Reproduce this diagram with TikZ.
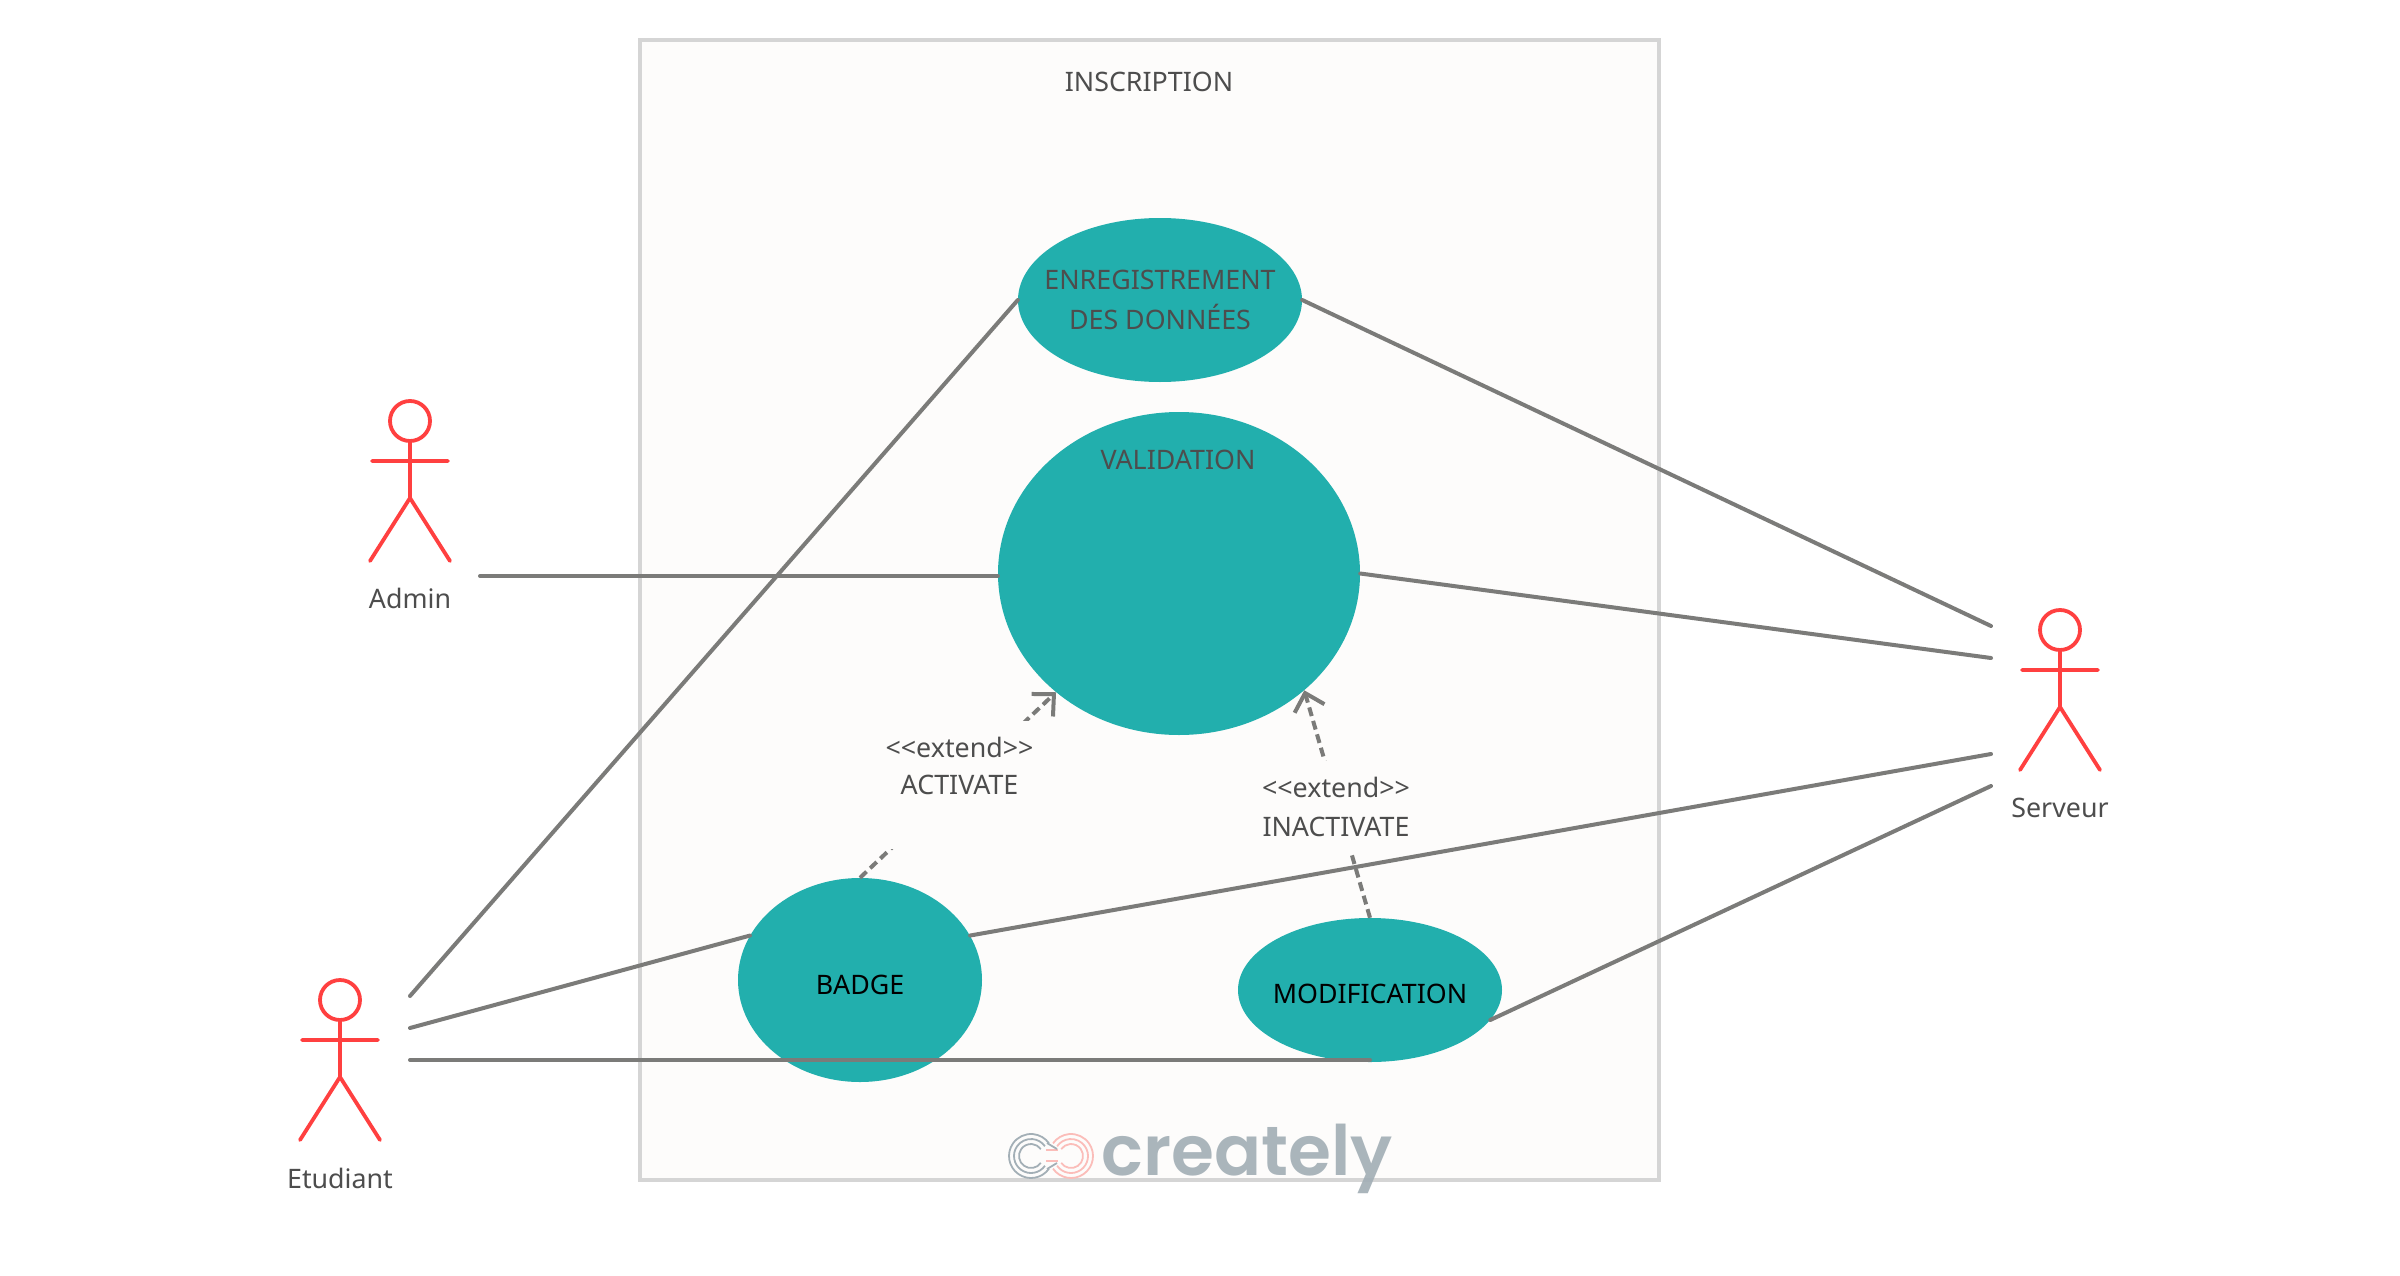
\documentclass[tikz,border=0pt]{standalone}
\usepackage{fontspec}
\setmainfont{Noto Sans}[Ligatures=TeXOff]
\newfontfamily\logofont{Poppins SemiBold}
\usetikzlibrary{positioning,arrows.meta,shapes.geometric}
\definecolor{casefill}{HTML}{22AFAD}
\definecolor{boxfill}{HTML}{FDFCFB}
\definecolor{boxline}{HTML}{D5D5D5}
\definecolor{linkgray}{HTML}{7B7B79}
\definecolor{labelgray}{HTML}{4D4D4D}
\definecolor{actorred}{HTML}{FF4040}
\definecolor{logogray}{HTML}{A3AFB6}
\definecolor{logopink}{HTML}{FBBDB9}
\tikzset{
  usecase/.style={shape=ellipse, fill=casefill, inner xsep=-40pt, inner ysep=-12pt, text=labelgray, align=center},
  assoc/.style={draw=linkgray, line width=4pt, line cap=round},
  extendlink/.style={draw=linkgray, line width=4pt, dash pattern=on 9pt off 5pt, -{Straight Barb[length=16pt,width=31pt]}},
  extendlabel/.style={fill=boxfill, inner sep=0pt, text=labelgray, align=center, minimum width=134pt},
  actorlabel/.style={text=labelgray, anchor=center, inner sep=0pt},
  pics/actorman/.style={code={
    \draw[actorred, line width=3.8pt, line cap=round, line join=round]
      (0,0) circle (20) (0,20) -- (0,77) (-38,40) -- (38,40) (-40,140) -- (0,77) -- (40,140);
  }}
}
\begin{document}
\begin{tikzpicture}[x=1pt, y=-1pt, font=\fontsize{26.8}{39}\selectfont]
  \useasboundingbox (0,0) rectangle (2400,1276);
  \fill[white] (0,0) rectangle (2400,1276);
  \node[draw=boxline, fill=boxfill, line width=4pt, minimum width=1019pt, minimum height=1140pt, inner sep=0pt] (inscription) at (1149.5,610) {};
  \node[text=labelgray, inner sep=0pt] (inscriptiontitle) at (1149,82) {INSCRIPTION};

  % use cases
  \node[usecase, minimum width=284pt, minimum height=164pt] (enregistrement) at (1160,300) {ENREGISTREMENT\\[1pt]DES DONNÉES};
  \node[usecase, minimum width=362pt, minimum height=323pt] (validation) at (1179,573.5) {};
  \node[text=labelgray, inner sep=0pt] (validationtitle) at (1178,460) {VALIDATION};
  \node[usecase, minimum width=244pt, minimum height=204pt, text=black] (badge) at (860,980) {\raisebox{-5pt}[\height][\depth]{BADGE}};
  \node[usecase, minimum width=264pt, minimum height=144pt, text=black] (modification) at (1370,990) {\raisebox{-3.5pt}[\height][\depth]{MODIFICATION}};

  % actors
  \pic at (410,421) {actorman};
  \node[actorlabel] (admin) at (410,598) {Admin};
  \pic at (340,1000) {actorman};
  \node[actorlabel] (etudiant) at (340,1178) {Etudiant};
  \pic at (2060,630) {actorman};
  \node[actorlabel] (serveur) at (2060,808) {Serveur};

  % free ends of the links
  \coordinate (adminend) at (480,576);
  \coordinate (etudiantone) at (410,996);
  \coordinate (etudianttwo) at (410,1028);
  \coordinate (etudiantthree) at (410,1060);
  \coordinate (serveurone) at (1991,626);
  \coordinate (serveurtwo) at (1991,658);
  \coordinate (serveurthree) at (1991,754);
  \coordinate (serveurfour) at (1991,786);

  % extend links
  \draw[extendlink] (badge.north) -- (validation.224);
  \draw[extendlink] (modification.north) -- (validation.-43.4);
  \node[extendlabel, minimum height=128pt] (activate) at (959.5,785) {<<extend>>\\[-2pt]ACTIVATE\\\mbox{}};
  \node[extendlabel, minimum height=91pt] (inactivate) at (1336,806.5) {<<extend>>\\INACTIVATE};

  % associations
  \draw[assoc] (adminend) -- (adminend -| validation.west);
  \draw[assoc] (etudiantone) -- (enregistrement.west);
  \draw[assoc] (etudianttwo) -- (badge.158);
  \draw[assoc] (etudiantthree) -- (etudiantthree -| modification.south);
  \draw[assoc] (enregistrement.east) -- (serveurone);
  \draw[assoc] (validation.east) -- (serveurtwo);
  \draw[assoc] (badge.22) -- (serveurthree);
  \draw[assoc] (modification.-14) -- (serveurfour);

  % logo
  \begin{scope}[line width=1.8pt]
    \foreach \r in {22,17,12}{
      \draw[logogray] (1031,1156) ++(35:\r) arc[start angle=35, end angle=325, radius=\r];
      \draw[logopink] (1071,1156) ++(145:\r) arc[start angle=145, end angle=-145, radius=\r];
    }
    \draw[logopink] (1046,1150) -- (1058,1150) (1046,1161) -- (1058,1161);
    \draw[logogray] (1047,1143) -- (1057,1149) (1047,1169) -- (1057,1163);
  \end{scope}
  \node[text=logogray, text opacity=0.92, inner sep=0pt, anchor=base, font=\logofont\fontsize{69.5}{69.5}\selectfont] (creately) at (1247,1175) {creately};
\end{tikzpicture}
\end{document}
